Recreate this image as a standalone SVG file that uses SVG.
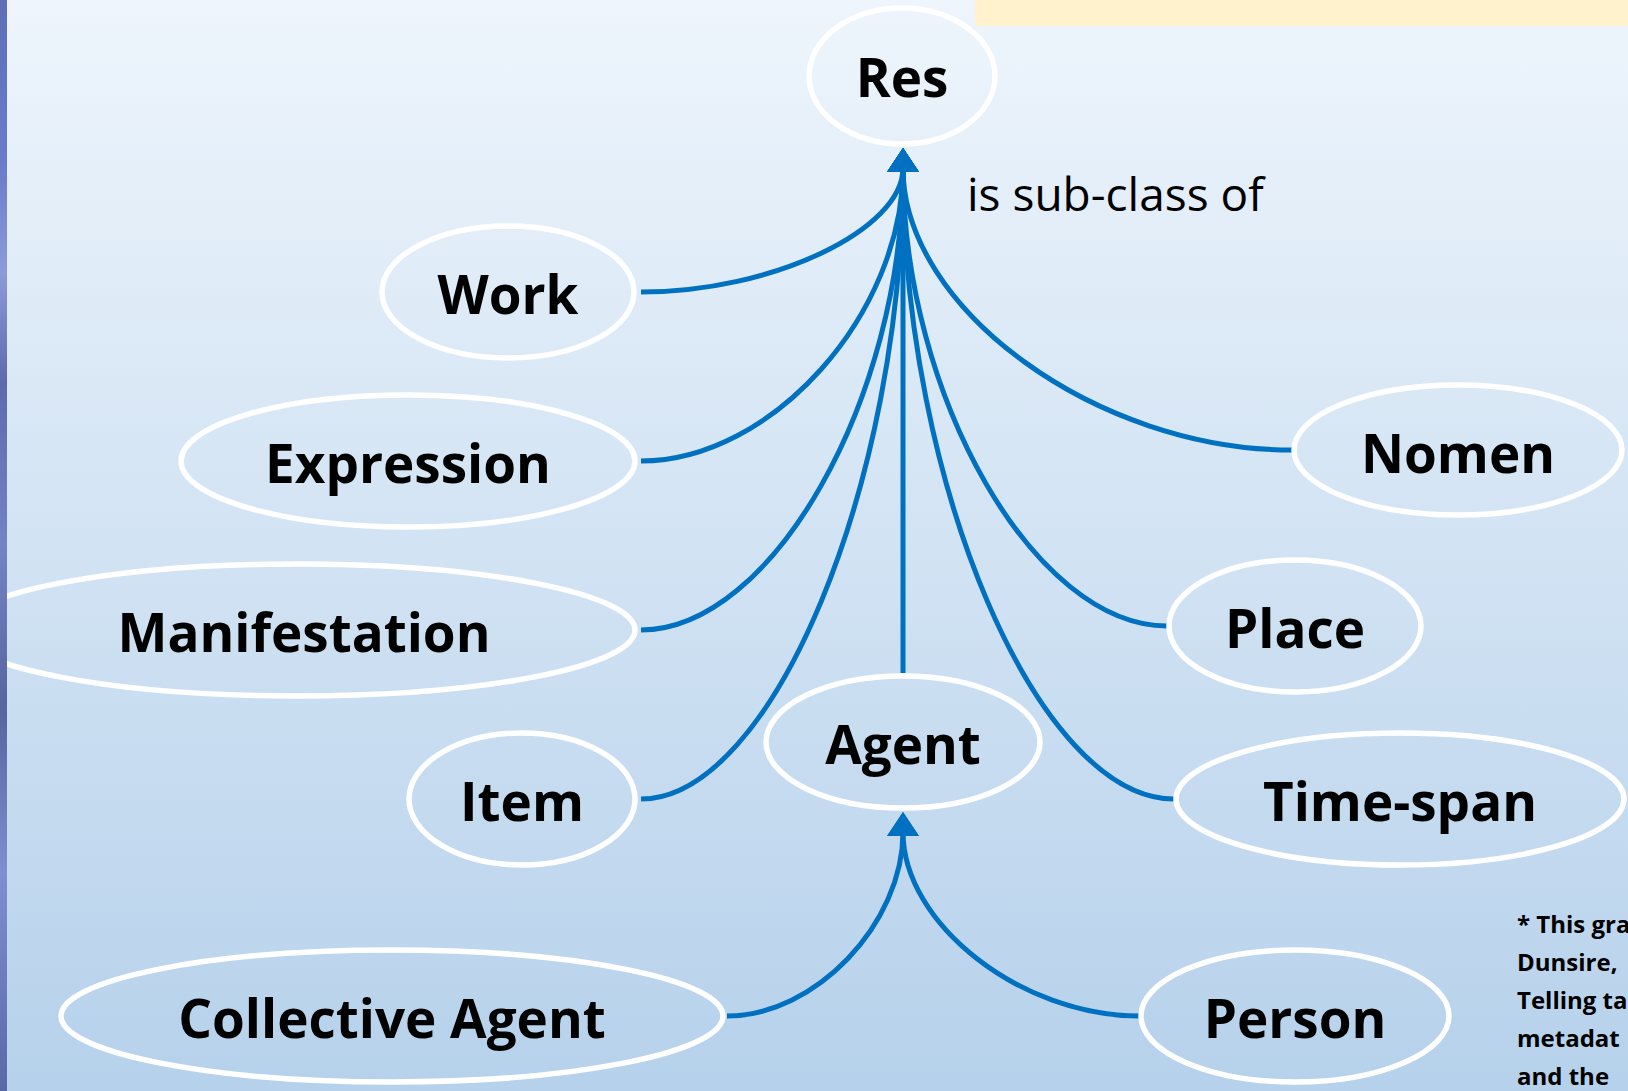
<svg xmlns="http://www.w3.org/2000/svg" width="1628" height="1091" viewBox="0 0 1628 1091">
  <defs>
    <linearGradient id="bg" x1="0" y1="0" x2="0" y2="1">
      <stop offset="0" stop-color="#EEF5FC"/>
      <stop offset="1" stop-color="#B6D1EB"/>
    </linearGradient>
    <linearGradient id="strip" x1="0" y1="0" x2="0" y2="1">
      <stop offset="0" stop-color="#5E6FB8"/>
      <stop offset="0.15" stop-color="#6A7BC8"/>
      <stop offset="0.25" stop-color="#8C9BDA"/>
      <stop offset="0.35" stop-color="#5C6AB0"/>
      <stop offset="0.5" stop-color="#7483C4"/>
      <stop offset="0.65" stop-color="#56649F"/>
      <stop offset="0.8" stop-color="#7F8ED0"/>
      <stop offset="1" stop-color="#5A68A8"/>
    </linearGradient>
    <marker id="arr" markerUnits="userSpaceOnUse" viewBox="0 0 24 32" markerWidth="24" markerHeight="32" refX="4" refY="16" orient="auto">
      <path d="M0,0 L24,16 L0,32 z" fill="#0070C0"/>
    </marker>
    <style>
      .node ellipse { fill: none; stroke: #FFFFFF; stroke-width: 5.5; }
      .node text { font-family: "Open Sans", "Noto Sans", "Liberation Sans", sans-serif; font-weight: bold; font-size: 53px; fill: #000000; text-anchor: middle; }
      .conn path { fill: none; stroke: #0070C0; stroke-width: 5; marker-end: url(#arr); }
      .label { font-family: "Open Sans", "Noto Sans", "Liberation Sans", sans-serif; font-size: 46px; fill: #000000; }
      .note { font-family: "Open Sans", "Noto Sans", "Liberation Sans", sans-serif; font-weight: bold; font-size: 24px; fill: #000000; }
    </style>
  </defs>

  <rect x="0" y="0" width="1628" height="1091" fill="url(#bg)"/>
  <rect x="975" y="0" width="653" height="26" fill="#FFF2CC"/>

  <g id="connectors" class="conn">
    <path d="M 641 292 C 772 292, 903 230, 903 168"/>
    <path d="M 641 461 C 772 461, 903 314, 903 168"/>
    <path d="M 641 630 C 772 630, 903 399, 903 168"/>
    <path d="M 641 799 C 772 799, 903 483, 903 168"/>
    <path d="M 903 673 L 903 168"/>
    <path d="M 1292 450 C 1097 450, 903 309, 903 168"/>
    <path d="M 1167 626 C 1035 626, 903 397, 903 168"/>
    <path d="M 1174 799 C 1038 799, 903 483, 903 168"/>
    <path d="M 727 1016 C 815 1016, 903 924, 903 832"/>
    <path d="M 1139 1016 C 1021 1016, 903 924, 903 832"/>
  </g>

  <g id="node-res" class="node">
    <ellipse cx="902" cy="76" rx="93" ry="68"/>
    <text x="902" y="97">Res</text>
  </g>
  <g id="node-work" class="node">
    <ellipse cx="508" cy="292" rx="126" ry="66"/>
    <text x="508" y="314">Work</text>
  </g>
  <g id="node-expression" class="node">
    <ellipse cx="408" cy="461" rx="227" ry="66"/>
    <text x="408" y="483">Expression</text>
  </g>
  <g id="node-manifestation" class="node">
    <ellipse cx="297" cy="630" rx="338" ry="66"/>
    <text x="304" y="652">Manifestation</text>
  </g>
  <g id="node-item" class="node">
    <ellipse cx="522" cy="799" rx="113" ry="66"/>
    <text x="522" y="821">Item</text>
  </g>
  <g id="node-agent" class="node">
    <ellipse cx="903" cy="742" rx="137" ry="66"/>
    <text x="903" y="764">Agent</text>
  </g>
  <g id="node-collective-agent" class="node">
    <ellipse cx="392" cy="1016" rx="331" ry="66"/>
    <text x="392" y="1038">Collective Agent</text>
  </g>
  <g id="node-person" class="node">
    <ellipse cx="1295" cy="1016" rx="154" ry="66"/>
    <text x="1295" y="1038">Person</text>
  </g>
  <g id="node-nomen" class="node">
    <ellipse cx="1458" cy="450" rx="164" ry="65"/>
    <text x="1458" y="473">Nomen</text>
  </g>
  <g id="node-place" class="node">
    <ellipse cx="1295" cy="626" rx="126" ry="66"/>
    <text x="1295" y="648">Place</text>
  </g>
  <g id="node-time-span" class="node">
    <ellipse cx="1400" cy="799" rx="224" ry="66"/>
    <text x="1400" y="821">Time-span</text>
  </g>

  <text class="label" x="967" y="211">is sub-class of</text>

  <g id="footnote" class="note">
    <text x="1517" y="933">* This gra</text>
    <text x="1517" y="971">Dunsire,</text>
    <text x="1517" y="1009">Telling ta</text>
    <text x="1517" y="1047">metadat</text>
    <text x="1517" y="1085">and the</text>
  </g>

  <rect x="0" y="0" width="7" height="1091" fill="url(#strip)"/>
</svg>
